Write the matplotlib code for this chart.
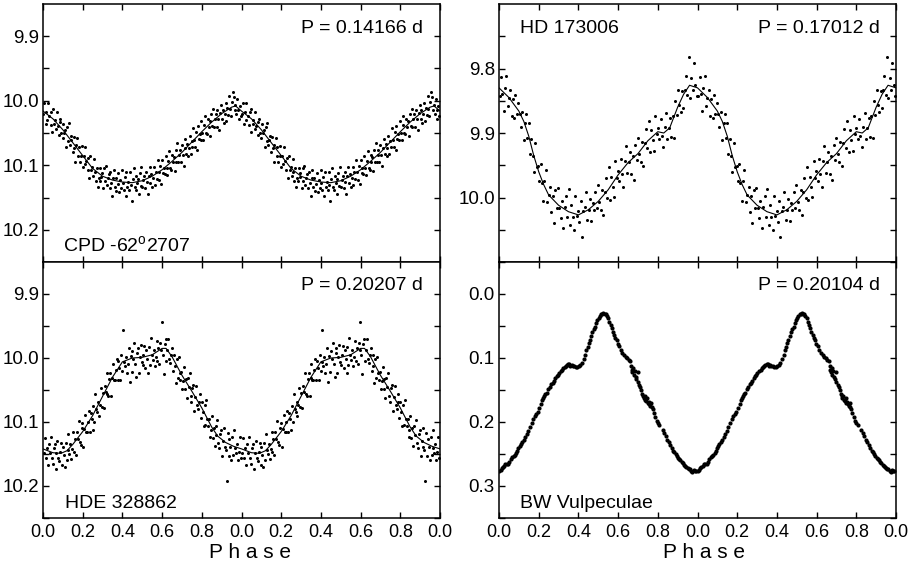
import numpy as np
import matplotlib
matplotlib.use("Agg")
import matplotlib.pyplot as plt

plt.rcParams['font.family'] = 'Liberation Sans'
plt.rcParams['mathtext.fontset'] = 'custom'
plt.rcParams['mathtext.rm'] = 'Liberation Sans'

# tick labels on the phase axis (two cycles)
phase_ticks = [0.0, 0.2, 0.4, 0.6, 0.8, 1.0, 1.2, 1.4, 1.6, 1.8, 2.0]
phase_labels = ['0.0', '0.2', '0.4', '0.6', '0.8', '0.0', '0.2', '0.4', '0.6', '0.8', '0.0']

# CPD -62 2707, P = 0.14166 d
cpd_phase = [
    0.002, 0.006, 0.013, 0.016, 0.022, 0.025, 0.031, 0.038, 0.041, 0.047,
    0.050, 0.056, 0.060, 0.066, 0.069, 0.074, 0.081, 0.084, 0.087, 0.093,
    0.099, 0.102, 0.108, 0.111, 0.117, 0.121, 0.126, 0.129, 0.135, 0.140,
    0.143, 0.149, 0.154, 0.158, 0.163, 0.166, 0.172, 0.177, 0.181, 0.186,
    0.192, 0.195, 0.201, 0.206, 0.210, 0.213, 0.219, 0.225, 0.228, 0.234,
    0.239, 0.243, 0.247, 0.252, 0.258, 0.261, 0.266, 0.272, 0.275, 0.280,
    0.285, 0.289, 0.294, 0.297, 0.303, 0.308, 0.311, 0.316, 0.322, 0.325,
    0.330, 0.336, 0.339, 0.344, 0.348, 0.353, 0.357, 0.362, 0.367, 0.370,
    0.376, 0.380, 0.385, 0.389, 0.394, 0.398, 0.403, 0.408, 0.411, 0.417,
    0.420, 0.425, 0.430, 0.434, 0.439, 0.443, 0.447, 0.452, 0.456, 0.461,
    0.466, 0.469, 0.474, 0.479, 0.482, 0.488, 0.492, 0.496, 0.501, 0.506,
    0.510, 0.514, 0.519, 0.523, 0.528, 0.532, 0.537, 0.541, 0.546, 0.550,
    0.555, 0.560, 0.563, 0.568, 0.573, 0.577, 0.582, 0.586, 0.591, 0.595,
    0.600, 0.605, 0.609, 0.614, 0.618, 0.623, 0.627, 0.632, 0.636, 0.641,
    0.645, 0.650, 0.654, 0.659, 0.663, 0.668, 0.672, 0.677, 0.681, 0.686,
    0.690, 0.695, 0.699, 0.704, 0.708, 0.713, 0.717, 0.722, 0.726, 0.731,
    0.735, 0.740, 0.744, 0.749, 0.753, 0.758, 0.762, 0.767, 0.771, 0.776,
    0.780, 0.785, 0.789, 0.794, 0.798, 0.803, 0.807, 0.812, 0.816, 0.821,
    0.825, 0.830, 0.834, 0.839, 0.843, 0.848, 0.852, 0.857, 0.861, 0.866,
    0.870, 0.875, 0.879, 0.884, 0.888, 0.893, 0.897, 0.902, 0.906, 0.911,
    0.915, 0.920, 0.924, 0.929, 0.933, 0.938, 0.942, 0.947, 0.951, 0.956,
    0.960, 0.965, 0.969, 0.974, 0.978, 0.983, 0.987, 0.992, 0.996,
]
cpd_mag = [
    10.020, 10.004, 10.036, 10.018, 10.030, 10.003, 10.024, 10.038, 10.018, 10.048,
    10.013, 10.036, 10.030, 10.044, 10.017, 10.039, 10.053, 10.033, 10.028, 10.050,
    10.057, 10.036, 10.050, 10.045, 10.071, 10.040, 10.062, 10.035, 10.069, 10.061,
    10.055, 10.079, 10.056, 10.073, 10.095, 10.068, 10.058, 10.085, 10.072, 10.095,
    10.086, 10.070, 10.102, 10.085, 10.098, 10.071, 10.094, 10.108, 10.088, 10.120,
    10.086, 10.108, 10.103, 10.116, 10.090, 10.111, 10.124, 10.104, 10.133, 10.120,
    10.125, 10.104, 10.118, 10.112, 10.136, 10.105, 10.125, 10.101, 10.130, 10.120,
    10.114, 10.135, 10.111, 10.127, 10.148, 10.120, 10.107, 10.133, 10.119, 10.140,
    10.129, 10.112, 10.142, 10.123, 10.135, 10.107, 10.127, 10.139, 10.118, 10.147,
    10.111, 10.133, 10.126, 10.138, 10.110, 10.130, 10.155, 10.121, 10.105, 10.134,
    10.138, 10.116, 10.128, 10.121, 10.144, 10.112, 10.132, 10.103, 10.134, 10.123,
    10.116, 10.136, 10.110, 10.126, 10.144, 10.117, 10.103, 10.127, 10.113, 10.133,
    10.120, 10.102, 10.131, 10.111, 10.121, 10.092, 10.111, 10.123, 10.101, 10.129,
    10.092, 10.112, 10.104, 10.114, 10.085, 10.104, 10.115, 10.093, 10.078, 10.104,
    10.107, 10.084, 10.095, 10.087, 10.109, 10.076, 10.095, 10.065, 10.095, 10.084,
    10.076, 10.095, 10.069, 10.084, 10.101, 10.073, 10.059, 10.082, 10.067, 10.086,
    10.073, 10.054, 10.083, 10.062, 10.072, 10.042, 10.061, 10.072, 10.049, 10.077,
    10.039, 10.059, 10.051, 10.061, 10.032, 10.050, 10.061, 10.038, 10.023, 10.050,
    10.052, 10.029, 10.040, 10.032, 10.054, 10.021, 10.039, 10.013, 10.040, 10.029,
    10.021, 10.040, 10.014, 10.029, 10.045, 10.019, 10.006, 10.029, 10.014, 10.034,
    10.021, 10.003, 10.032, 10.012, 10.022, 9.993, 10.013, 10.024, 10.002, 9.986,
    9.994, 10.015, 10.007, 10.020, 9.998, 10.015, 10.028, 10.008, 10.023,
]
cpd_fit_phase = [0.00, 0.05, 0.10, 0.15, 0.20, 0.25, 0.30, 0.35, 0.40, 0.45, 0.50,
                 0.55, 0.60, 0.65, 0.70, 0.75, 0.80, 0.85, 0.90, 0.95, 0.97, 1.00]
cpd_fit_mag = [10.016, 10.028, 10.045, 10.065, 10.085, 10.105, 10.117, 10.123, 10.126, 10.127, 10.124,
               10.117, 10.107, 10.094, 10.080, 10.064, 10.048, 10.033, 10.020, 10.010, 10.008, 10.016]

# HD 173006, P = 0.17012 d
hd_phase = [
    0.004, 0.011, 0.017, 0.025, 0.030, 0.036, 0.043, 0.049, 0.057, 0.063,
    0.070, 0.076, 0.083, 0.089, 0.097, 0.104, 0.110, 0.117, 0.124, 0.131,
    0.137, 0.143, 0.150, 0.156, 0.163, 0.170, 0.176, 0.183, 0.190, 0.197,
    0.203, 0.210, 0.216, 0.223, 0.229, 0.236, 0.243, 0.250, 0.257, 0.263,
    0.270, 0.277, 0.283, 0.290, 0.297, 0.304, 0.311, 0.317, 0.324, 0.331,
    0.338, 0.344, 0.351, 0.358, 0.364, 0.371, 0.378, 0.384, 0.391, 0.398,
    0.405, 0.411, 0.418, 0.425, 0.431, 0.438, 0.445, 0.452, 0.458, 0.465,
    0.472, 0.478, 0.485, 0.492, 0.498, 0.505, 0.512, 0.519, 0.525, 0.532,
    0.539, 0.545, 0.552, 0.559, 0.566, 0.572, 0.579, 0.586, 0.592, 0.599,
    0.606, 0.613, 0.619, 0.626, 0.633, 0.639, 0.646, 0.653, 0.659, 0.666,
    0.673, 0.680, 0.686, 0.693, 0.700, 0.707, 0.713, 0.720, 0.727, 0.734,
    0.740, 0.747, 0.754, 0.761, 0.767, 0.774, 0.781, 0.788, 0.794, 0.801,
    0.808, 0.815, 0.821, 0.828, 0.835, 0.842, 0.848, 0.855, 0.862, 0.868,
    0.875, 0.882, 0.888, 0.895, 0.902, 0.909, 0.915, 0.922, 0.929, 0.935,
    0.942, 0.949, 0.956, 0.962, 0.969, 0.976, 0.982, 0.989, 0.995,
]
hd_mag = [
    9.843, 9.813, 9.840, 9.866, 9.831, 9.811, 9.858, 9.845, 9.834, 9.873,
    9.848, 9.876, 9.841, 9.870, 9.853, 9.871, 9.890, 9.867, 9.911, 9.884,
    9.870, 9.907, 9.885, 9.932, 9.909, 9.935, 9.961, 9.915, 9.952, 9.951,
    9.974, 9.948, 9.978, 10.006, 9.975, 9.957, 10.007, 9.996, 9.984, 10.022,
    9.997, 10.040, 9.989, 10.017, 9.986, 10.016, 10.032, 10.005, 10.047, 10.015,
    9.998, 10.031, 9.987, 10.043, 10.011, 10.030, 10.050, 9.998, 10.028, 10.021,
    10.038, 10.005, 10.062, 10.021, 10.014, 9.991, 10.035, 10.019, 10.003, 10.037,
    10.008, 10.020, 9.992, 10.016, 9.981, 10.007, 10.020, 9.989, 10.027, 9.991,
    9.970, 10.000, 9.952, 10.004, 9.968, 9.983, 9.999, 9.943, 9.970, 9.959,
    9.975, 9.940, 9.963, 9.983, 9.944, 9.920, 9.962, 9.945, 9.929, 9.964,
    9.935, 9.973, 9.918, 9.942, 9.907, 9.932, 9.945, 9.914, 9.951, 9.915,
    9.894, 9.923, 9.881, 9.929, 9.895, 9.911, 9.928, 9.873, 9.901, 9.892,
    9.910, 9.879, 9.904, 9.922, 9.891, 9.869, 9.910, 9.893, 9.876, 9.906,
    9.873, 9.908, 9.850, 9.872, 9.834, 9.856, 9.868, 9.835, 9.861, 9.834,
    9.812, 9.841, 9.782, 9.846, 9.815, 9.834, 9.792, 9.825, 9.842,
]
hd_fit_phase = [0.00, 0.05, 0.10, 0.125, 0.15, 0.175, 0.20, 0.225, 0.25, 0.30, 0.35,
                0.40, 0.45, 0.50, 0.55, 0.60, 0.65, 0.70, 0.75, 0.80, 0.83, 0.86,
                0.90, 0.93, 0.96, 1.00]
hd_fit_mag = [9.830, 9.845, 9.866, 9.882, 9.905, 9.935, 9.960, 9.980, 9.996, 10.012, 10.022,
              10.027, 10.019, 10.006, 9.988, 9.965, 9.946, 9.932, 9.912, 9.898, 9.900, 9.892,
              9.860, 9.840, 9.826, 9.830]

# HDE 328862, P = 0.20207 d
hde_phase = [
    0.003, 0.009, 0.013, 0.019, 0.024, 0.029, 0.033, 0.039, 0.044, 0.048,
    0.054, 0.058, 0.063, 0.068, 0.072, 0.077, 0.082, 0.086, 0.091, 0.096,
    0.100, 0.105, 0.110, 0.114, 0.119, 0.124, 0.128, 0.133, 0.138, 0.142,
    0.147, 0.152, 0.156, 0.161, 0.166, 0.170, 0.175, 0.180, 0.184, 0.189,
    0.194, 0.198, 0.203, 0.208, 0.212, 0.217, 0.222, 0.226, 0.231, 0.236,
    0.240, 0.245, 0.250, 0.254, 0.259, 0.264, 0.268, 0.273, 0.278, 0.282,
    0.287, 0.292, 0.296, 0.301, 0.306, 0.310, 0.315, 0.320, 0.324, 0.329,
    0.334, 0.338, 0.343, 0.348, 0.352, 0.357, 0.362, 0.366, 0.371, 0.376,
    0.380, 0.385, 0.390, 0.394, 0.399, 0.404, 0.408, 0.413, 0.418, 0.422,
    0.427, 0.432, 0.436, 0.441, 0.446, 0.450, 0.455, 0.460, 0.464, 0.469,
    0.474, 0.478, 0.483, 0.488, 0.492, 0.497, 0.502, 0.506, 0.511, 0.516,
    0.520, 0.525, 0.530, 0.534, 0.539, 0.544, 0.548, 0.553, 0.558, 0.562,
    0.567, 0.572, 0.576, 0.581, 0.586, 0.590, 0.595, 0.599, 0.604, 0.609,
    0.613, 0.618, 0.622, 0.627, 0.632, 0.636, 0.641, 0.646, 0.650, 0.655,
    0.660, 0.664, 0.669, 0.674, 0.678, 0.683, 0.688, 0.692, 0.697, 0.702,
    0.706, 0.711, 0.716, 0.720, 0.725, 0.730, 0.734, 0.739, 0.744, 0.748,
    0.753, 0.758, 0.762, 0.767, 0.772, 0.776, 0.781, 0.786, 0.790, 0.795,
    0.800, 0.804, 0.809, 0.814, 0.818, 0.823, 0.828, 0.832, 0.837, 0.842,
    0.846, 0.851, 0.856, 0.860, 0.865, 0.870, 0.874, 0.879, 0.884, 0.888,
    0.893, 0.898, 0.902, 0.907, 0.912, 0.916, 0.921, 0.925, 0.930, 0.935,
    0.939, 0.944, 0.949, 0.953, 0.958, 0.963, 0.967, 0.972, 0.977, 0.981,
    0.986, 0.991, 0.995,
]
hde_mag = [
    10.148, 10.125, 10.157, 10.140, 10.167, 10.134, 10.148, 10.123, 10.157, 10.165,
    10.141, 10.134, 10.173, 10.149, 10.129, 10.157, 10.161, 10.147, 10.133, 10.167,
    10.139, 10.151, 10.170, 10.133, 10.160, 10.118, 10.143, 10.150, 10.134, 10.158,
    10.142, 10.116, 10.147, 10.127, 10.151, 10.116, 10.127, 10.099, 10.131, 10.136,
    10.110, 10.102, 10.139, 10.111, 10.089, 10.115, 10.116, 10.100, 10.083, 10.116,
    10.086, 10.096, 10.112, 10.075, 10.100, 10.056, 10.080, 10.085, 10.068, 10.091,
    10.074, 10.047, 10.076, 10.055, 10.078, 10.043, 10.053, 10.024, 10.056, 10.060,
    10.033, 10.023, 10.059, 10.031, 10.009, 10.034, 10.035, 10.018, 10.001, 10.034,
    10.004, 10.015, 10.034, 9.995, 10.021, 9.957, 10.006, 10.013, 9.999, 10.023,
    10.009, 9.984, 10.037, 9.997, 10.022, 9.989, 10.002, 9.976, 10.010, 10.030,
    9.992, 9.985, 10.024, 9.999, 9.979, 10.007, 10.011, 9.996, 9.982, 10.016,
    9.988, 10.001, 10.024, 9.983, 10.011, 9.969, 9.996, 10.003, 9.988, 10.013,
    9.998, 9.973, 10.004, 9.985, 10.010, 9.976, 9.988, 9.944, 9.995, 10.025,
    9.978, 9.971, 10.004, 9.988, 9.971, 10.002, 10.008, 9.996, 9.984, 10.021,
    9.996, 10.012, 10.039, 10.001, 10.032, 9.998, 10.023, 10.034, 10.022, 10.048,
    10.036, 10.014, 10.049, 10.033, 10.062, 10.031, 10.046, 10.023, 10.059, 10.068,
    10.047, 10.042, 10.083, 10.061, 10.043, 10.074, 10.080, 10.069, 10.057, 10.094,
    10.069, 10.084, 10.107, 10.073, 10.104, 10.066, 10.096, 10.106, 10.095, 10.123,
    10.112, 10.091, 10.125, 10.109, 10.137, 10.106, 10.121, 10.097, 10.133, 10.141,
    10.118, 10.113, 10.153, 10.129, 10.110, 10.139, 10.144, 10.192, 10.117, 10.153,
    10.126, 10.139, 10.160, 10.124, 10.152, 10.112, 10.140, 10.148, 10.135, 10.160,
    10.147, 10.123, 10.156,
]
hde_fit_phase = [0.00, 0.05, 0.09, 0.12, 0.15, 0.20, 0.25, 0.30, 0.35, 0.40, 0.45,
                 0.50, 0.55, 0.60, 0.62, 0.65, 0.70, 0.75, 0.80, 0.85, 0.88, 0.92,
                 0.96, 1.00]
hde_fit_mag = [10.142, 10.148, 10.149, 10.145, 10.135, 10.115, 10.090, 10.060, 10.030, 10.006, 10.000,
               9.999, 9.995, 9.985, 9.985, 9.998, 10.027, 10.052, 10.078, 10.108, 10.122, 10.132,
               10.138, 10.142]

# BW Vulpeculae, P = 0.20104 d
bw_phase = [
    0.002, 0.008, 0.014, 0.020, 0.026, 0.032, 0.040, 0.046, 0.052, 0.060,
    0.068, 0.074, 0.080, 0.086, 0.092, 0.098, 0.104, 0.110, 0.116, 0.124,
    0.132, 0.140, 0.148, 0.156, 0.164, 0.172, 0.180, 0.188, 0.196, 0.204,
    0.212, 0.218, 0.224, 0.228, 0.234, 0.240, 0.248, 0.256, 0.264, 0.270,
    0.276, 0.284, 0.290, 0.296, 0.302, 0.310, 0.318, 0.324, 0.330, 0.336,
    0.342, 0.348, 0.354, 0.360, 0.366, 0.372, 0.378, 0.386, 0.394, 0.402,
    0.410, 0.416, 0.426, 0.434, 0.440, 0.446, 0.452, 0.458, 0.464, 0.470,
    0.478, 0.484, 0.490, 0.496, 0.502, 0.508, 0.514, 0.520, 0.526, 0.532,
    0.538, 0.544, 0.550, 0.556, 0.562, 0.568, 0.574, 0.580, 0.586, 0.592,
    0.598, 0.606, 0.614, 0.622, 0.630, 0.638, 0.646, 0.654, 0.662, 0.666,
    0.670, 0.672, 0.676, 0.680, 0.684, 0.688, 0.692, 0.698, 0.700, 0.706,
    0.712, 0.716, 0.722, 0.726, 0.730, 0.734, 0.738, 0.742, 0.746, 0.750,
    0.754, 0.758, 0.762, 0.766, 0.770, 0.774, 0.780, 0.786, 0.794, 0.800,
    0.808, 0.824, 0.832, 0.840, 0.848, 0.856, 0.862, 0.870, 0.878, 0.884,
    0.890, 0.896, 0.902, 0.908, 0.914, 0.920, 0.926, 0.932, 0.938, 0.944,
    0.950, 0.956, 0.962, 0.968, 0.974, 0.980, 0.986, 0.992,
]
bw_mag = [
    0.277, 0.275, 0.272, 0.270, 0.268, 0.266, 0.266, 0.265, 0.262, 0.258,
    0.255, 0.253, 0.252, 0.249, 0.246, 0.241, 0.237, 0.234, 0.232, 0.228,
    0.223, 0.219, 0.214, 0.208, 0.202, 0.196, 0.191, 0.187, 0.184, 0.178,
    0.172, 0.166, 0.162, 0.160, 0.157, 0.154, 0.149, 0.145, 0.141, 0.139,
    0.136, 0.132, 0.128, 0.126, 0.124, 0.121, 0.118, 0.116, 0.114, 0.112,
    0.111, 0.109, 0.110, 0.112, 0.111, 0.112, 0.113, 0.114, 0.114, 0.113,
    0.111, 0.108, 0.101, 0.095, 0.088, 0.083, 0.077, 0.072, 0.066, 0.060,
    0.055, 0.051, 0.046, 0.041, 0.037, 0.034, 0.032, 0.031, 0.030, 0.031,
    0.032, 0.035, 0.038, 0.043, 0.048, 0.053, 0.059, 0.064, 0.068, 0.072,
    0.078, 0.082, 0.087, 0.092, 0.096, 0.099, 0.100, 0.103, 0.105, 0.112,
    0.118, 0.122, 0.116, 0.126, 0.120, 0.130, 0.133, 0.122, 0.138, 0.142,
    0.146, 0.150, 0.156, 0.159, 0.162, 0.160, 0.165, 0.167, 0.163, 0.170,
    0.168, 0.172, 0.175, 0.171, 0.177, 0.180, 0.186, 0.192, 0.198, 0.202,
    0.204, 0.212, 0.217, 0.222, 0.228, 0.232, 0.236, 0.241, 0.245, 0.247,
    0.250, 0.253, 0.256, 0.258, 0.260, 0.262, 0.264, 0.267, 0.268, 0.270,
    0.272, 0.273, 0.274, 0.276, 0.278, 0.275, 0.277, 0.276,
]


def two_cycles(phase, mag):
    p = np.asarray(phase)
    m = np.asarray(mag)
    return np.concatenate([p, p + 1.0]), np.concatenate([m, m])


def setup_axes(ax, ylim, majors, minors, labels_bottom):
    ax.set_xlim(0, 2)
    ax.set_ylim(*ylim)
    ax.set_xticks(phase_ticks)
    ax.set_xticklabels(phase_labels)
    ax.set_yticks(majors)
    ax.set_yticks(minors, minor=True)
    ax.yaxis.set_major_formatter(plt.FormatStrFormatter('%.1f'))
    ax.tick_params(which='both', direction='in', top=True, right=True,
                   length=4, width=1.0, labelsize=13.5, pad=3)
    ax.tick_params(axis='x', labelsize=13, pad=4, labelbottom=labels_bottom)
    for s in ax.spines.values():
        s.set_linewidth(1.1)


def main():
    fig = plt.figure(figsize=(9.08, 5.65), dpi=100)
    W, H = 908.0, 565.0
    lx0, rx0, aw = 43 / W, 499 / W, 397 / W
    ax_tl = fig.add_axes([lx0, (H - 262) / H, aw, 258 / H])
    ax_tr = fig.add_axes([rx0, (H - 262) / H, aw, 258 / H])
    ax_bl = fig.add_axes([lx0, (H - 518) / H, aw, 256 / H])
    ax_br = fig.add_axes([rx0, (H - 518) / H, aw, 256 / H])

    dot = dict(ls='none', marker='o', color='black', ms=2.2, mew=0)
    line = dict(color='black', lw=0.8)

    # CPD -62 2707
    x, y = two_cycles(cpd_phase, cpd_mag)
    ax_tl.plot(x, y, **dot)
    x, y = two_cycles(cpd_fit_phase, cpd_fit_mag)
    ax_tl.plot(x, y, **line)
    setup_axes(ax_tl, (10.25, 9.85), [9.9, 10.0, 10.1, 10.2],
               [9.95, 10.05, 10.15, 10.25], False)
    ax_tl.text(0.957, 0.888, 'P = 0.14166 d', transform=ax_tl.transAxes,
               ha='right', va='baseline', fontsize=14)
    ax_tl.text(0.05, 0.039, r'CPD -62$^{\mathrm{o}}$2707', transform=ax_tl.transAxes,
               ha='left', va='baseline', fontsize=14)

    # HD 173006
    x, y = two_cycles(hd_phase, hd_mag)
    ax_tr.plot(x, y, **dot)
    x, y = two_cycles(hd_fit_phase, hd_fit_mag)
    ax_tr.plot(x, y, **line)
    setup_axes(ax_tr, (10.1, 9.7), [9.8, 9.9, 10.0],
               [9.75, 9.85, 9.95, 10.05], False)
    ax_tr.text(0.96, 0.888, 'P = 0.17012 d', transform=ax_tr.transAxes,
               ha='right', va='baseline', fontsize=14)
    ax_tr.text(0.053, 0.888, 'HD 173006', transform=ax_tr.transAxes,
               ha='left', va='baseline', fontsize=14)

    # HDE 328862
    x, y = two_cycles(hde_phase, hde_mag)
    ax_bl.plot(x, y, **dot)
    x, y = two_cycles(hde_fit_phase, hde_fit_mag)
    ax_bl.plot(x, y, **line)
    setup_axes(ax_bl, (10.25, 9.85), [9.9, 10.0, 10.1, 10.2],
               [9.95, 10.05, 10.15, 10.25], True)
    ax_bl.text(0.957, 0.891, 'P = 0.20207 d', transform=ax_bl.transAxes,
               ha='right', va='baseline', fontsize=14)
    ax_bl.text(0.055, 0.039, 'HDE 328862', transform=ax_bl.transAxes,
               ha='left', va='baseline', fontsize=14)

    # BW Vul
    x, y = two_cycles(bw_phase, bw_mag)
    ax_br.plot(x, y, ls='none', marker='o', color='black', ms=3.0, mew=0)
    setup_axes(ax_br, (0.35, -0.05), [0.0, 0.1, 0.2, 0.3],
               [-0.05, 0.05, 0.15, 0.25, 0.35], True)
    ax_br.text(0.96, 0.891, 'P = 0.20104 d', transform=ax_br.transAxes,
               ha='right', va='baseline', fontsize=14)
    ax_br.text(0.053, 0.039, 'BW Vulpeculae', transform=ax_br.transAxes,
               ha='left', va='baseline', fontsize=14)

    fig.text(250 / W, (H - 558) / H, 'P h a s e', ha='center', va='baseline', fontsize=15)
    fig.text(704 / W, (H - 558) / H, 'P h a s e', ha='center', va='baseline', fontsize=15)

    fig.savefig('out.png', dpi=100)


if __name__ == '__main__':
    main()
